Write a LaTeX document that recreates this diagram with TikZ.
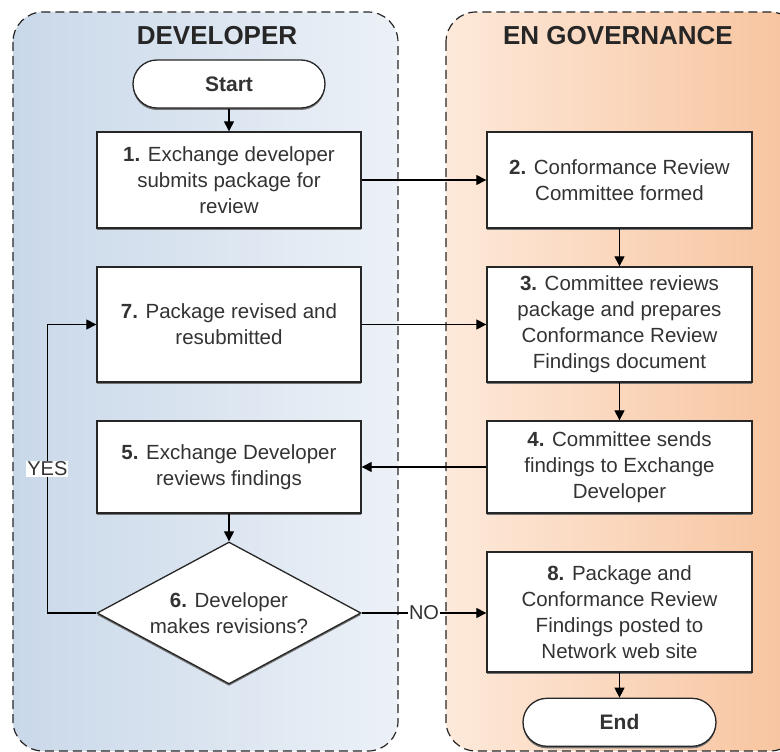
\documentclass[tikz,border=0pt]{standalone}
\usepackage{fontspec}
\setmainfont{Liberation Sans}
\usetikzlibrary{arrows.meta,positioning,shapes.geometric,shadows}
\definecolor{devleft}{HTML}{C9D8E9}
\definecolor{devright}{HTML}{ECF1F7}
\definecolor{govleft}{HTML}{FDE9DA}
\definecolor{govright}{HTML}{F7C39D}
\tikzset{lane/.style={draw=black!85,line width=1.2pt,dash pattern=on 9pt off 5pt,rounded corners=30pt}}
\tikzset{lanetitle/.style={font=\fontsize{26}{30}\selectfont\bfseries,text=black!85}}
\tikzset{procbox/.style={draw=black!85,fill=white,line width=1.3pt,minimum width=264pt,align=center,
		font=\fontsize{20.5}{26}\selectfont,text=black!80,
		drop shadow={shadow xshift=0pt,shadow yshift=-2pt,fill=black!55,opacity=1}}}
\tikzset{terminal/.style={procbox,rounded corners=24pt,minimum width=192pt,minimum height=48pt,
		font=\fontsize{21}{26}\selectfont\bfseries}}
\tikzset{decision/.style={procbox,diamond,aspect=1.86,inner sep=0pt,minimum width=264pt,minimum height=142pt,drop shadow={opacity=0}}}
\tikzset{flow/.style={draw=black,line width=1.1pt,-{Triangle[length=10pt,width=10pt]}}}
\tikzset{answer/.style={fill=white,inner sep=1pt,font=\fontsize{20}{24}\selectfont,text=black!80}}

\begin{document}
\begin{tikzpicture}[x=1pt,y=-1pt]
	\useasboundingbox (0,0) rectangle (780,752);
	% swimlanes
	\path[lane,left color=devleft,right color=devright] (13,12) rectangle (398,751);
	\path[lane,left color=govleft,right color=govright] (446,12) rectangle (800,751);
	\node[lanetitle] (dev) at (217,36) {DEVELOPER};
	\node[lanetitle] (gov) at (618,36) {EN GOVERNANCE};
	
	% developer side
	\node[terminal] (start) at (229,84) {Start};
	\node[procbox,minimum height=96pt] (s1) at (229,180) {\textbf{1.} Exchange developer\\submits package for\\review};
	\node[procbox,minimum height=115pt] (s7) at (229,324.5) {\textbf{7.} Package revised and\\resubmitted};
	\node[procbox,minimum height=92pt] (s5) at (229,467) {\textbf{5.} Exchange Developer\\reviews findings};
	\node[decision] (s6) at (229,613) {\textbf{6.} Developer\\makes revisions?};
	
	% governance side
	\node[procbox,minimum width=265pt,minimum height=96pt] (s2) at (619.5,180) {\textbf{2.} Conformance Review\\Committee formed};
	\node[procbox,minimum width=265pt,minimum height=115pt] (s3) at (619.5,324.5) {\textbf{3.} Committee reviews\\package and prepares\\Conformance Review\\Findings document};
	\node[procbox,minimum width=265pt,minimum height=92pt] (s4) at (619.5,467) {\textbf{4.} Committee sends\\findings to Exchange\\Developer};
	\node[procbox,minimum width=265pt,minimum height=120pt] (s8) at (619.5,612) {\textbf{8.} Package and\\Conformance Review\\Findings posted to\\Network web site};
	\node[terminal,minimum width=193pt,below=25pt of s8] (end) {End};
	
	\draw[flow] (start) -- (s1);
	\draw[flow] (s1) -- (s2);
	\draw[flow] (s2) -- (s3);
	\draw[flow] (s7) -- (s3);
	\draw[flow] (s3) -- (s4);
	\draw[flow] (s4) -- (s5);
	\draw[flow] (s5) -- (s6);
	\draw[flow] (s6.west) -- ++(-49,0) |- node[answer,pos=0.25]{YES} (s7.west);
	\draw[flow] (s6.east) -- node[answer]{NO} (s8.west |- s6.east);
	\draw[flow] (s8) -- (end);
\end{tikzpicture}
\end{document}
